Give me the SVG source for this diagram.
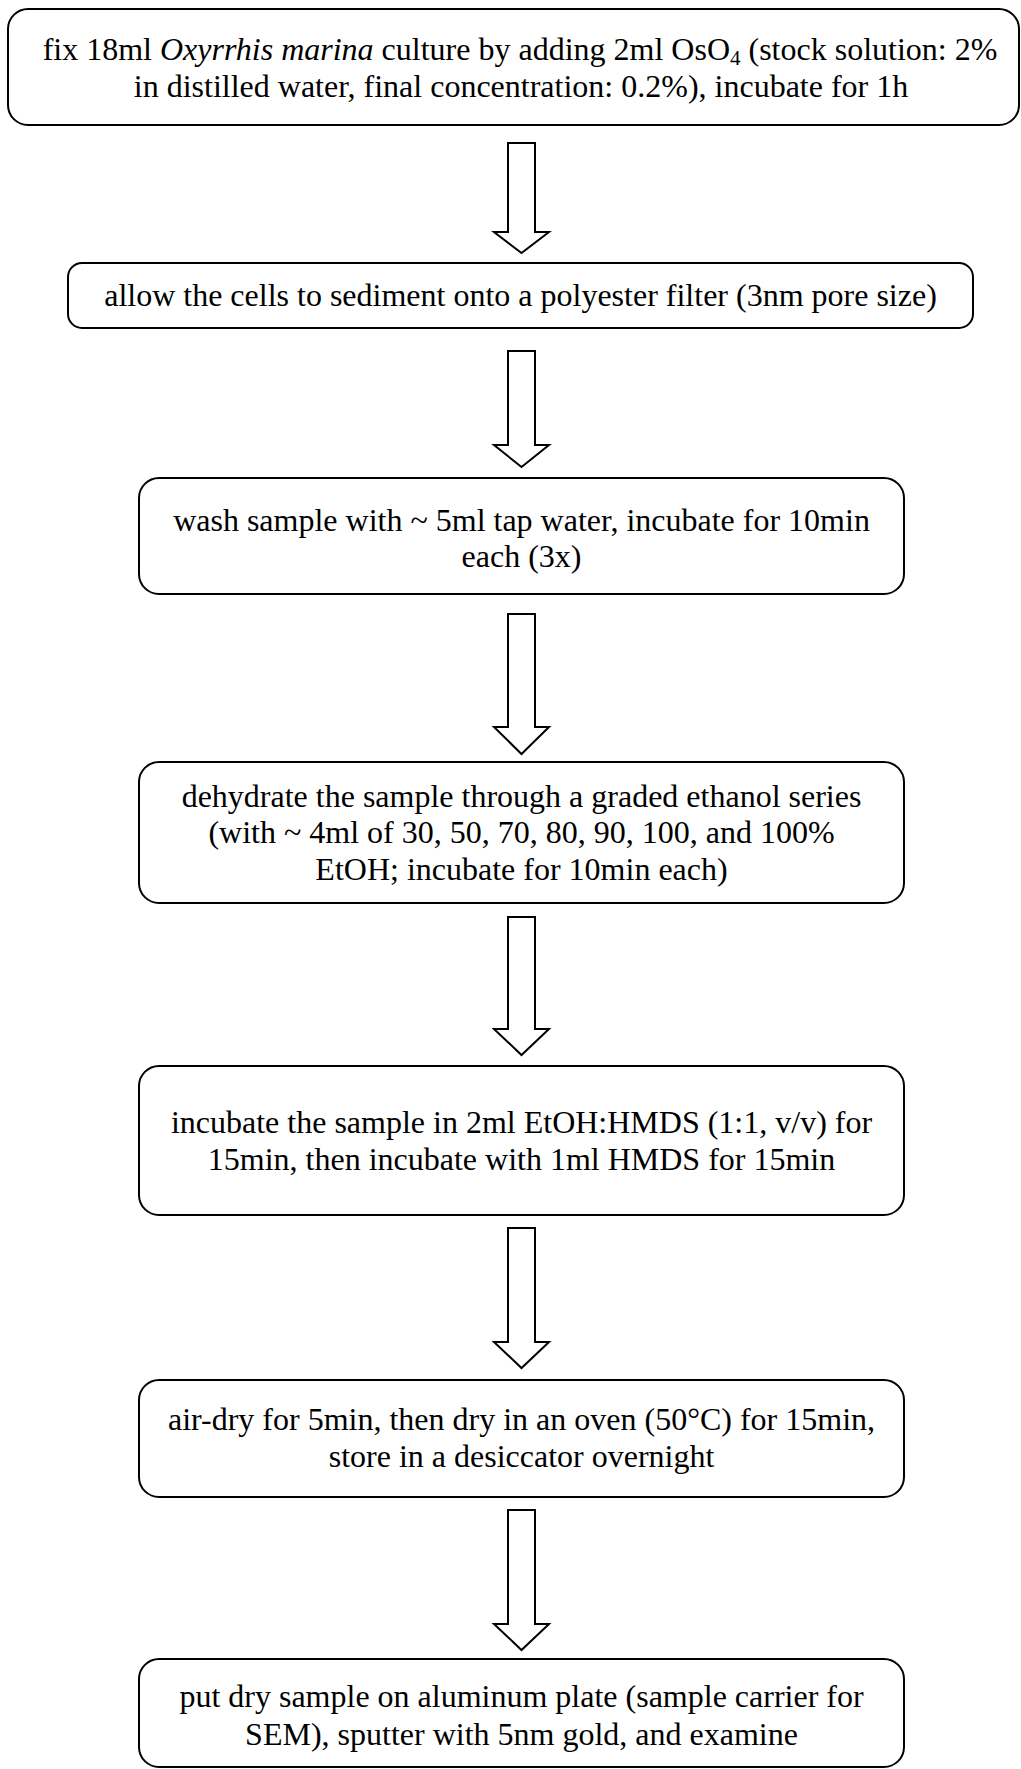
<svg xmlns="http://www.w3.org/2000/svg" width="1021" height="1769" viewBox="0 0 1021 1769">
<style>
.box{fill:#fff;stroke:#000;stroke-width:2}
.arr{fill:#fff;stroke:#000;stroke-width:2;stroke-linejoin:miter}
text{font-family:"Liberation Serif","Times New Roman",serif;font-size:32px;fill:#000;text-anchor:middle}
</style>
<rect width="1021" height="1769" fill="#fff"/>
<g id="connectors">
<path class="arr" d="M508,143 H535 V232 H549 L521.5,253 L494,232 H508 Z"/>
<path class="arr" d="M508,351 H535 V445 H549 L521.5,467 L494,445 H508 Z"/>
<path class="arr" d="M508,614 H535 V727 H549 L521.5,754 L494,727 H508 Z"/>
<path class="arr" d="M508,917 H535 V1029 H549 L521.5,1055 L494,1029 H508 Z"/>
<path class="arr" d="M508,1228 H535 V1342 H549 L521.5,1368 L494,1342 H508 Z"/>
<path class="arr" d="M508,1510 H535 V1624 H549 L521.5,1650 L494,1624 H508 Z"/>
</g>
<g id="n1">
<rect class="box" x="8" y="9" width="1011" height="116" rx="20"/>
<text x="520" y="60">fix 18ml <tspan font-style="italic">Oxyrrhis marina</tspan> culture by adding 2ml OsO<tspan font-size="21" dy="5">4</tspan><tspan dy="-5"> (stock solution: 2%</tspan></text>
<text x="521" y="97">in distilled water, final concentration: 0.2%), incubate for 1h</text>
</g>
<g id="n2">
<rect class="box" x="68" y="263" width="905" height="65" rx="14"/>
<text x="520.5" y="306">allow the cells to sediment onto a polyester filter (3nm pore size)</text>
</g>
<g id="n3">
<rect class="box" x="139" y="478" width="765" height="116" rx="20"/>
<text x="521.5" y="531">wash sample with ~ 5ml tap water, incubate for 10min</text>
<text x="521.5" y="567">each (3x)</text>
</g>
<g id="n4">
<rect class="box" x="139" y="762" width="765" height="141" rx="20"/>
<text x="521.5" y="807">dehydrate the sample through a graded ethanol series</text>
<text x="521.5" y="843">(with ~ 4ml of 30, 50, 70, 80, 90, 100, and 100%</text>
<text x="521.5" y="880">EtOH; incubate for 10min each)</text>
</g>
<g id="n5">
<rect class="box" x="139" y="1066" width="765" height="149" rx="20"/>
<text x="521.5" y="1133">incubate the sample in 2ml EtOH:HMDS (1:1, v/v) for</text>
<text x="521.5" y="1170">15min, then incubate with 1ml HMDS for 15min</text>
</g>
<g id="n6">
<rect class="box" x="139" y="1380" width="765" height="117" rx="20"/>
<text x="521.5" y="1430">air-dry for 5min, then dry in an oven (50°C) for 15min,</text>
<text x="521.5" y="1467">store in a desiccator overnight</text>
</g>
<g id="n7">
<rect class="box" x="139" y="1659" width="765" height="108" rx="20"/>
<text x="521.5" y="1707">put dry sample on aluminum plate (sample carrier for</text>
<text x="521.5" y="1745">SEM), sputter with 5nm gold, and examine</text>
</g>
</svg>
